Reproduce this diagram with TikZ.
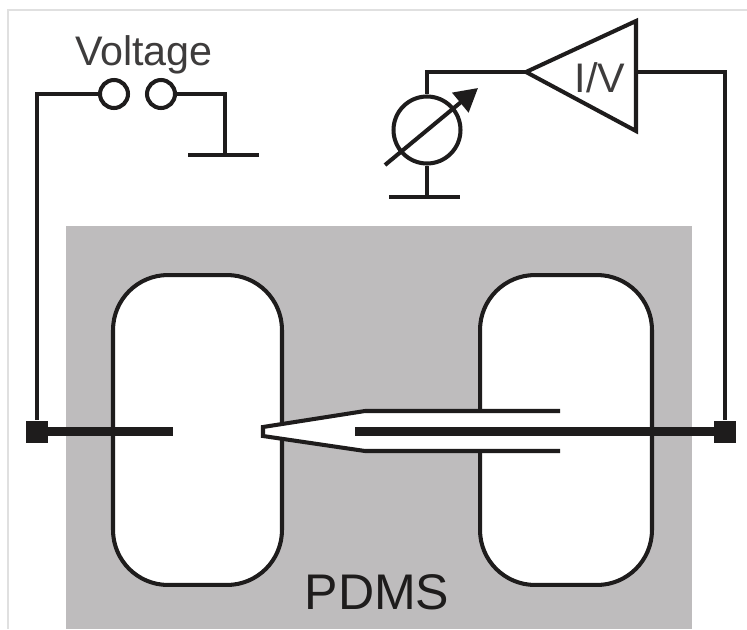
\documentclass[tikz,border=0pt]{standalone}
\usepackage{fontspec}
\setmainfont{Liberation Sans}
\usetikzlibrary{arrows.meta}
\definecolor{pdmsgray}{RGB}{190,188,189}
\definecolor{inkdark}{RGB}{30,28,28}
\definecolor{textgray}{RGB}{62,60,60}
\tikzset{
  wire/.style={inkdark,line width=2.3pt,line join=miter},
  lead/.style={inkdark,line width=4.6pt},
  chamber/.style={draw=inkdark,line width=2.3pt,fill=white,rounded corners=1.1cm},
  terminal/.style={circle,draw=inkdark,line width=2.3pt,fill=white,inner sep=0pt,minimum size=0.56cm},
  contact/.style={rectangle,fill=inkdark,inner sep=0pt,minimum size=0.44cm},
  textlabel/.style={textgray,inner sep=0pt,anchor=base,font=\fontsize{23.5}{23.5}\selectfont}
}
\begin{document}
\begin{tikzpicture}[x=0.02cm,y=-0.02cm]
        \useasboundingbox (0,0) rectangle (747,629);
        \fill[white] (0,0) rectangle (747,629);
        \draw[black!12,line width=0.6pt] (8,629) -- (8,10) -- (747,10);
        \fill[pdmsgray] (66,226) rectangle (692,629);
        % chambers
        \node[chamber,minimum width=3.38cm,minimum height=6.2cm] (chamberL) at (197.5,430) {};
        \node[chamber,minimum width=3.44cm,minimum height=6.2cm] (chamberR) at (566,430) {};
        % pipette
        \coordinate (tipT) at (263,427);
        \coordinate (tipB) at (263,436);
        \coordinate (neckT) at (365,411);
        \coordinate (neckB) at (365,451);
        \coordinate (endT) at (560,411);
        \coordinate (endB) at (560,451);
        \fill[white] (tipT) -- (neckT) -- (endT) -- (endB) -- (neckB) -- (tipB) -- cycle;
        \draw[wire] (endT) -- (neckT) -- (tipT) -- (tipB) -- (neckB) -- (endB);
        % contacts and leads
        \node[contact] (contactL) at (37,431.5) {};
        \node[contact] (contactR) at (725,431.5) {};
        \coordinate (leadL) at (173,431.5);
        \coordinate (leadR) at (355,431.5);
        \draw[lead] (contactL) -- (leadL);
        \draw[lead] (contactR) -- (leadR);
        % voltage source
        \node[terminal] (termA) at (114,94) {};
        \node[terminal] (termB) at (161,94) {};
        \node[textlabel] (voltage) at (144,65) {Voltage};
        \coordinate (cornerA) at (37,94);
        \coordinate (cornerB) at (225,94);
        \coordinate (gndA) at (225,155);
        \coordinate (gndAl) at (188,155);
        \coordinate (gndAr) at (259,155);
        \draw[wire] (contactL) -- (cornerA) -- (termA);
        \draw[wire] (termB) -- (cornerB) -- (gndA);
        \draw[wire] (gndAl) -- (gndAr);
        % ammeter
        \node[circle,draw=inkdark,line width=2.3pt,inner sep=0pt,minimum size=1.34cm] (meter) at (427,130) {};
        \coordinate (arrowS) at (385,165);
        \coordinate (arrowE) at (478,88);
        \draw[wire,-{Triangle[width=0.5cm,length=0.46cm]}] (arrowS) -- (arrowE);
        \coordinate (gndB) at (427,197);
        \coordinate (gndBl) at (389,197);
        \coordinate (gndBr) at (460,197);
        \draw[wire] (meter) -- (gndB);
        \draw[wire] (gndBl) -- (gndBr);
        % amplifier
        \coordinate (ampT) at (636,21);
        \coordinate (ampB) at (636,131);
        \coordinate (ampL) at (526,72);
        \coordinate (ampR) at (636,72);
        \draw[wire] (ampL) -- (ampT) -- (ampB) -- cycle;
        \node[textlabel] (iv) at (600,92) {I/V};
        \coordinate (cornerC) at (427,72);
        \coordinate (cornerD) at (725,72);
        \draw[wire] (meter) -- (cornerC) -- (ampL);
        \draw[wire] (ampR) -- (cornerD) -- (contactR);
        % material label
        \node[textlabel,inkdark,font=\fontsize{28.5}{28.5}\selectfont] (pdms) at (377,609) {PDMS};
\end{tikzpicture}
\end{document}
